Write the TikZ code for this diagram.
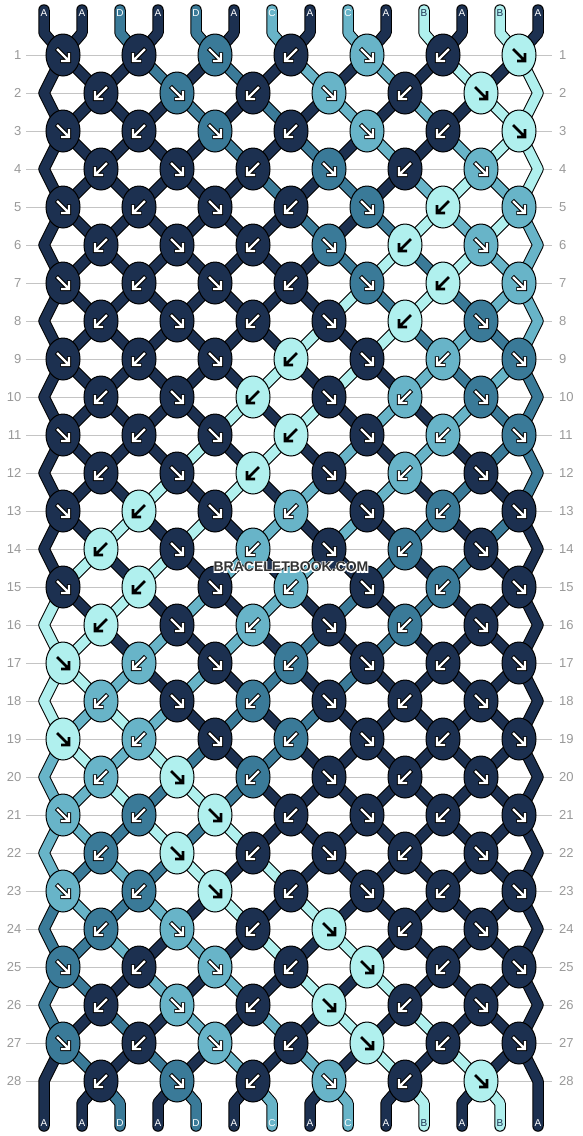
\documentclass[tikz,border=0pt]{standalone}
\usepackage{fontspec}
\setmainfont{Liberation Sans}
\usetikzlibrary{shapes.geometric}
\definecolor{cA}{HTML}{1C3050}
\definecolor{cB}{HTML}{B0F0EE}
\definecolor{cC}{HTML}{68B4C8}
\definecolor{cD}{HTML}{3A7A98}
\definecolor{gridgray}{HTML}{C4C4C4}
\definecolor{labgray}{HTML}{999999}
\definecolor{wmgray}{HTML}{333333}
\pgfdeclarelayer{gridlayer}
\pgfdeclarelayer{strout}
\pgfdeclarelayer{strin}
\pgfsetlayers{gridlayer,strout,strin,main}

% ---- string simulation ----
\def\initS#1#2{\expandafter\xdef\csname S#1\endcsname{#2}}
\initS{0}{A}\initS{1}{A}\initS{2}{D}\initS{3}{A}\initS{4}{D}\initS{5}{A}\initS{6}{C}
\initS{7}{A}\initS{8}{C}\initS{9}{A}\initS{10}{B}\initS{11}{A}\initS{12}{B}\initS{13}{A}
\def\knotat#1#2#3#4#5{%
  \edef\knA{\csname S#3\endcsname}\edef\knB{\csname S#4\endcsname}%
  \if#5L\expandafter\xdef\csname K-#1-#2\endcsname{\knA}%
  \else\expandafter\xdef\csname K-#1-#2\endcsname{\knB}\fi
  \expandafter\xdef\csname S#3\endcsname{\knB}%
  \expandafter\xdef\csname S#4\endcsname{\knA}}
\foreach \ps in {0,...,13}{\expandafter\xdef\csname C-0-\ps\endcsname{\csname S\ps\endcsname}}
\foreach \rw in {1,...,28}{%
  \ifodd\rw\relax
    \foreach \kn in {0,...,6}{%
      \pgfmathtruncatemacro\posA{2*\kn}\pgfmathtruncatemacro\posB{2*\kn+1}%
      \ifodd\kn\relax\knotat{\rw}{\kn}{\posA}{\posB}{R}\else\knotat{\rw}{\kn}{\posA}{\posB}{L}\fi}%
  \else
    \foreach \kn in {0,...,5}{%
      \pgfmathtruncatemacro\posA{2*\kn+1}\pgfmathtruncatemacro\posB{2*\kn+2}%
      \ifodd\kn\relax\knotat{\rw}{\kn}{\posA}{\posB}{L}\else\knotat{\rw}{\kn}{\posA}{\posB}{R}\fi}%
  \fi
  \foreach \ps in {0,...,13}{\expandafter\xdef\csname C-\rw-\ps\endcsname{\csname S\ps\endcsname}}%
}

\tikzset{
  knot/.style={ellipse, draw=black, line width=1pt, minimum width=34pt, minimum height=42pt, inner sep=0pt},
  strout/.style={draw=black, line width=11.5pt, line cap=round, line join=round},
  strin/.style={line width=9.5pt, line cap=round, line join=round},
  gridline/.style={draw=gridgray, line width=1pt},
  rowlab/.style={text=labgray, font=\fontsize{13}{13}\selectfont, inner sep=0pt},
  strlab/.style={font=\fontsize{10}{10}\selectfont, inner sep=0pt},
  arrowout/.style={draw=black, line width=4.4pt, line cap=butt, line join=miter},
  arrowin/.style={draw=white, line width=2.4pt, line cap=butt, line join=miter},
  arrowdark/.style={draw=black, line width=2.6pt, line cap=butt, line join=miter},
  wm/.style={font=\fontsize{14}{14}\selectfont\bfseries, inner sep=0pt},
}
\def\modeout{out}
\newcommand\seg[2]{%
  \ifx\segmode\modeout\draw[strout] #1;\else\draw[strin,draw=c#2] #1;\fi}

\newcommand\allsegs{%
  % top stubs
  \foreach \ps in {0,...,13}{
    \pgfmathtruncatemacro\tk{floor(\ps/2)}
    \edef\segc{\csname C-0-\ps\endcsname}
    \seg{(t-\ps) -- (tb-\ps) -- (k-1-\tk.center)}{\segc}
  }
  % strings between knots
  \foreach \rw in {1,...,27}{
    \pgfmathtruncatemacro\rn{\rw+1}
    \foreach \ps in {1,...,12}{
      \ifodd\rw\relax
        \pgfmathtruncatemacro\sk{floor(\ps/2)}\pgfmathtruncatemacro\tk{floor((\ps-1)/2)}%
      \else
        \pgfmathtruncatemacro\sk{floor((\ps-1)/2)}\pgfmathtruncatemacro\tk{floor(\ps/2)}%
      \fi
      \edef\segc{\csname C-\rw-\ps\endcsname}
      \seg{(k-\rw-\sk.center) -- (k-\rn-\tk.center)}{\segc}
    }
  }
  % edge strings
  \foreach \rw in {1,3,...,25}{
    \pgfmathtruncatemacro\rn{\rw+1}\pgfmathtruncatemacro\rnn{\rw+2}
    \edef\segL{\csname C-\rw-0\endcsname}\edef\segR{\csname C-\rw-13\endcsname}
    \seg{(k-\rw-0.center) -- (eL-\rn) -- (k-\rnn-0.center)}{\segL}
    \seg{(k-\rw-6.center) -- (eR-\rn) -- (k-\rnn-6.center)}{\segR}
  }
  \edef\segL{\csname C-27-0\endcsname}\edef\segR{\csname C-27-13\endcsname}
  \seg{(k-27-0.center) -- (eL-28) -- (b-0)}{\segL}
  \seg{(k-27-6.center) -- (eR-28) -- (b-13)}{\segR}
  % bottom stubs
  \foreach \ps in {1,...,12}{
    \pgfmathtruncatemacro\sk{floor((\ps-1)/2)}
    \edef\segc{\csname C-28-\ps\endcsname}
    \seg{(k-28-\sk.center) -- (bb-\ps) -- (b-\ps)}{\segc}
  }
}

\begin{document}
\begin{tikzpicture}[x=1pt,y=-1pt]
\useasboundingbox (0,0) rectangle (582,1136);
\begin{pgfonlayer}{gridlayer}
  \fill[white] (0,0) rectangle (582,1136);
  \foreach \rw in {1,...,28}{
    \pgfmathsetmacro\yy{55+38*(\rw-1)}
    \draw[gridline] (26,\yy) -- (552,\yy);
  }
\end{pgfonlayer}
% row numbers
\foreach \rw in {1,...,28}{
  \pgfmathsetmacro\yy{55+38*(\rw-1)}
  \node[rowlab,anchor=east] (ll-\rw) at (21.5,\yy) {\rw};
  \node[rowlab,anchor=west] (rl-\rw) at (559,\yy) {\rw};
}
% knots
\foreach \rw in {1,...,28}{
  \pgfmathsetmacro\yy{55+38*(\rw-1)}
  \ifodd\rw\relax\def\nmax{6}\def\xo{63}\else\def\nmax{5}\def\xo{101}\fi
  \foreach \kn in {0,...,\nmax}{
    \pgfmathsetmacro\xx{\xo+76*\kn}
    \edef\kc{\csname K-\rw-\kn\endcsname}
    \node[knot,fill=c\kc] (k-\rw-\kn) at (\xx,\yy) {};
    \pgfmathtruncatemacro\dd{mod(\rw+\kn,2)}
    \ifnum\dd=1 \def\sx{1}\else\def\sx{-1}\fi
    \if B\kc
      \draw[arrowdark,shift={(k-\rw-\kn.center)},xscale=\sx] (-6,-6) -- (5,5) (-2,6) -- (6,6) -- (6,-2);
    \else
      \draw[arrowout,shift={(k-\rw-\kn.center)},xscale=\sx] (-6.6,-6.6) -- (5,5) (-2.6,6) -- (6,6) -- (6,-2.6);
      \draw[arrowin,shift={(k-\rw-\kn.center)},xscale=\sx] (-6,-6) -- (5,5) (-2,6) -- (6,6) -- (6,-2);
    \fi
  }
}
% fixed points
\foreach \ps in {0,...,13}{
  \pgfmathsetmacro\xs{44+38*\ps}
  \coordinate (t-\ps) at (\xs,10);
  \coordinate (tb-\ps) at (\xs,33);
  \coordinate (bb-\ps) at (\xs,1103);
  \coordinate (b-\ps) at (\xs,1126);
}
\foreach \rw in {2,4,...,28}{
  \pgfmathsetmacro\yy{55+38*(\rw-1)}
  \coordinate (eL-\rw) at (44,\yy);
  \coordinate (eR-\rw) at (538,\yy);
}
% strings
\begin{pgfonlayer}{strout}
  \def\segmode{out}\allsegs
\end{pgfonlayer}
\begin{pgfonlayer}{strin}
  \def\segmode{in}\allsegs
\end{pgfonlayer}
% string labels
\foreach \ps in {0,...,13}{
  \pgfmathsetmacro\xs{44+38*\ps}
  \edef\segc{\csname C-0-\ps\endcsname}
  \if B\segc\def\lc{cA}\else\def\lc{white}\fi
  \node[strlab,text=\lc] (tl-\ps) at (\xs,13) {\segc};
  \edef\segc{\csname C-28-\ps\endcsname}
  \if B\segc\def\lc{cA}\else\def\lc{white}\fi
  \node[strlab,text=\lc] (bl-\ps) at (\xs,1123) {\segc};
}
% watermark: white outline copy under the dark text, in one node
\node[wm,text=wmgray] (wm) at (291,567)
  {\rlap{\color{white}\special{pdf:literal 1 Tr 2 w}BRACELETBOOK.COM\special{pdf:literal 0 Tr}}BRACELETBOOK.COM};
\end{tikzpicture}
\end{document}
